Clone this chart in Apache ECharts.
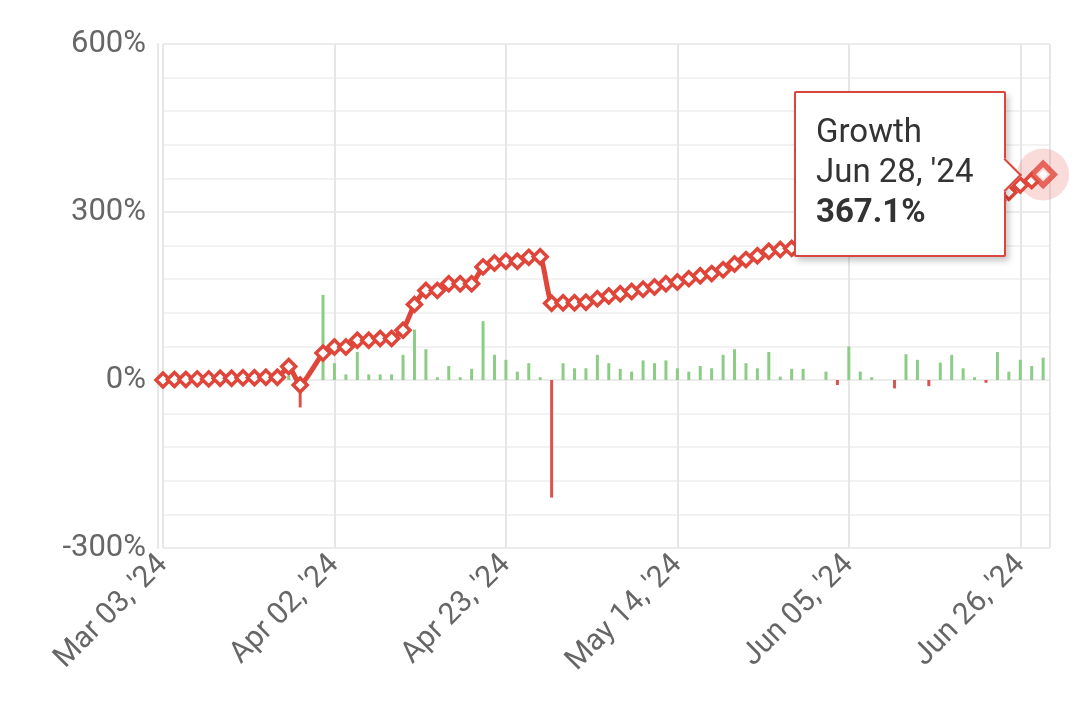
<!DOCTYPE html>
<html>
<head>
<meta charset="utf-8">
<script src="https://cdn.jsdelivr.net/npm/echarts/dist/echarts.min.js"></script>
<style>
html,body{margin:0;padding:0;background:#fff;}
#chart{width:1079px;height:727px;}
</style>
</head>
<body>
<div id="chart"></div>
<script>
const seriesName = 'Growth';
const dates = [
"Mar 03, '24","Mar 05, '24","Mar 06, '24","Mar 07, '24","Mar 08, '24","Mar 11, '24","Mar 12, '24","Mar 13, '24","Mar 14, '24","Mar 15, '24",
"Mar 18, '24","Mar 19, '24","Mar 20, '24","Mar 22, '24","Mar 28, '24","Apr 02, '24","Apr 03, '24","Apr 04, '24","Apr 05, '24","Apr 08, '24",
"Apr 09, '24","Apr 10, '24","Apr 11, '24","Apr 12, '24","Apr 15, '24","Apr 16, '24","Apr 17, '24","Apr 18, '24","Apr 19, '24","Apr 22, '24",
"Apr 23, '24","Apr 24, '24","Apr 25, '24","Apr 26, '24","Apr 29, '24","Apr 30, '24","May 01, '24","May 02, '24","May 03, '24","May 06, '24",
"May 07, '24","May 08, '24","May 09, '24","May 10, '24","May 13, '24","May 14, '24","May 15, '24","May 16, '24","May 17, '24","May 20, '24",
"May 21, '24","May 22, '24","May 23, '24","May 24, '24","May 28, '24","May 29, '24","May 30, '24","May 31, '24","Jun 03, '24","Jun 04, '24",
"Jun 05, '24","Jun 06, '24","Jun 07, '24","Jun 10, '24","Jun 11, '24","Jun 12, '24","Jun 13, '24","Jun 14, '24","Jun 17, '24","Jun 18, '24",
"Jun 19, '24","Jun 20, '24","Jun 21, '24","Jun 24, '24","Jun 25, '24","Jun 26, '24","Jun 27, '24","Jun 28, '24"
];
const growth = [
0, 1, 1, 2, 2, 3, 3, 4, 4, 5,
5, 24, -9, null, 48, 59, 59, 71, 71, 74,
74, 89, 135, 160, 160, 172, 172, 172, 202, 209,
212, 212, 219, 220, 137, 138, 138, 139, 145, 150,
154, 158, 162, 166, 172, 175, 181, 186, 190, 197,
207, 215, 222, 230, 233, 235, 240, 240, 244, 241,
255, 259, 261, 261, 256, 268, 276, 272, 280, 290,
295, 297, 295, 320, 335, 348, 356, 367.1
];
const change = [
null, null, null, null, null, null, null, null, null, null,
null, 8, -49, null, 152, 30, 10, 50, 10, 10,
10, 45, 90, 55, 5, 25, 5, 20, 105, 45,
36, 15, 30, 5, -210, 30, 21, 21, 45, 30,
20, 15, 35, 30, 35, 21, 15, 25, 21, 45,
55, 30, 21, 50, 6, 20, 20, null, 15, -9,
60, 15, 5, null, -15, 46, 36, -11, 31, 45,
21, 5, -5, 50, 15, 36, 25, 40
];
const yMin = -300, yMax = 600, yStep = 300;
const labelEvery = 15;

const RED = '#e0453a';
const GREEN = '#8ccd86';
const BAR_RED = '#d9534f';
const last = growth.length - 1;

const lineData = [];
growth.forEach((v, i) => {
  if (v === null) return;
  lineData.push([i, v]);
});
const barData = [];
change.forEach((v, i) => {
  if (v === null) return;
  barData.push({ value: [i, v], itemStyle: { color: v >= 0 ? GREEN : BAR_RED } });
});

const chart = echarts.init(document.getElementById('chart'), null, { renderer: 'canvas' });
chart.setOption({
  animation: false,
  backgroundColor: '#fff',
  textStyle: { fontFamily: 'Roboto' },
  grid: { left: 163, right: 29, top: 44, bottom: 179, containLabel: false },
  xAxis: {
    type: 'value',
    min: 0,
    max: last + 0.6,
    interval: labelEvery,
    axisLine: { show: false },
    axisTick: { show: false },
    splitLine: { show: true, lineStyle: { color: '#e6e6e6', width: 2 } },
    axisLabel: {
      rotate: 45,
      margin: 12,
      fontSize: 30,
      color: '#666',
      fontFamily: 'Roboto',
      showMaxLabel: false,
      formatter: (v) => (Number.isInteger(v) && v % labelEvery === 0 && dates[v]) ? dates[v] : ''
    }
  },
  yAxis: {
    type: 'value',
    min: yMin,
    max: yMax,
    interval: yStep,
    offset: 5,
    axisLine: { show: true, onZero: false, lineStyle: { color: '#e8e8e8', width: 2 } },
    axisTick: { show: false },
    minorTick: { show: false, splitNumber: 5 },
    splitLine: { show: true, lineStyle: { color: '#ececec', width: 2 } },
    minorSplitLine: { show: true, lineStyle: { color: '#f2f2f2', width: 2 } },
    axisLabel: {
      margin: 12,
      fontSize: 31,
      color: '#666',
      fontFamily: 'Roboto',
      formatter: (v) => v + '%'
    }
  },
  tooltip: {
    trigger: 'item',
    triggerOn: 'none',
    alwaysShowContent: true,
    confine: false,
    position: 'left',
    transitionDuration: 0,
    backgroundColor: '#fff',
    borderColor: '#d9463d',
    borderWidth: 2,
    padding: [18, 31, 24, 20],
    textStyle: { fontFamily: 'Roboto', fontSize: 33, color: '#333', lineHeight: 40 },
    extraCssText: 'box-shadow: 3px 4px 6px rgba(0,0,0,0.22); border-radius: 2px; overflow: visible;',
    formatter: () =>
      '<div style="position:absolute;right:-13px;top:50%;width:22px;height:22px;margin-top:-11px;' +
      'background:#fff;border-top:2px solid #d9463d;border-right:2px solid #d9463d;transform:rotate(45deg);"></div>' +
      '<div style="position:relative;">' + seriesName + '<br/>' + dates[last] + '<br/><b>' + growth[last].toFixed(1) + '%</b></div>'
  },
  series: [
    {
      type: 'bar',
      name: 'Change',
      data: barData,
      barWidth: 3,
      z: 1,
      silent: true
    },
    {
      type: 'scatter',
      name: 'halo',
      data: [[last, growth[last]]],
      symbol: 'circle',
      symbolSize: 52,
      itemStyle: { color: 'rgba(226,75,65,0.25)' },
      z: 2,
      silent: true
    },
    {
      type: 'line',
      name: seriesName,
      data: lineData,
      smooth: 0.15,
      connectNulls: true,
      symbol: 'diamond',
      symbolSize: 14,
      showAllSymbol: true,
      lineStyle: { color: RED, width: 5 },
      itemStyle: { color: '#fff', borderColor: RED, borderWidth: 3.5 },
      z: 3,
      silent: true
    },
    {
      type: 'scatter',
      name: 'current',
      data: [[last, growth[last]]],
      symbol: 'diamond',
      symbolSize: 22,
      itemStyle: { color: '#fff', borderColor: RED, borderWidth: 5.5 },
      z: 4,
      silent: true
    }
  ]
});
function showTip() {
  chart.dispatchAction({ type: 'showTip', seriesIndex: 1, dataIndex: 0 });
}
showTip();
setTimeout(showTip, 50);
</script>
</body>
</html>
